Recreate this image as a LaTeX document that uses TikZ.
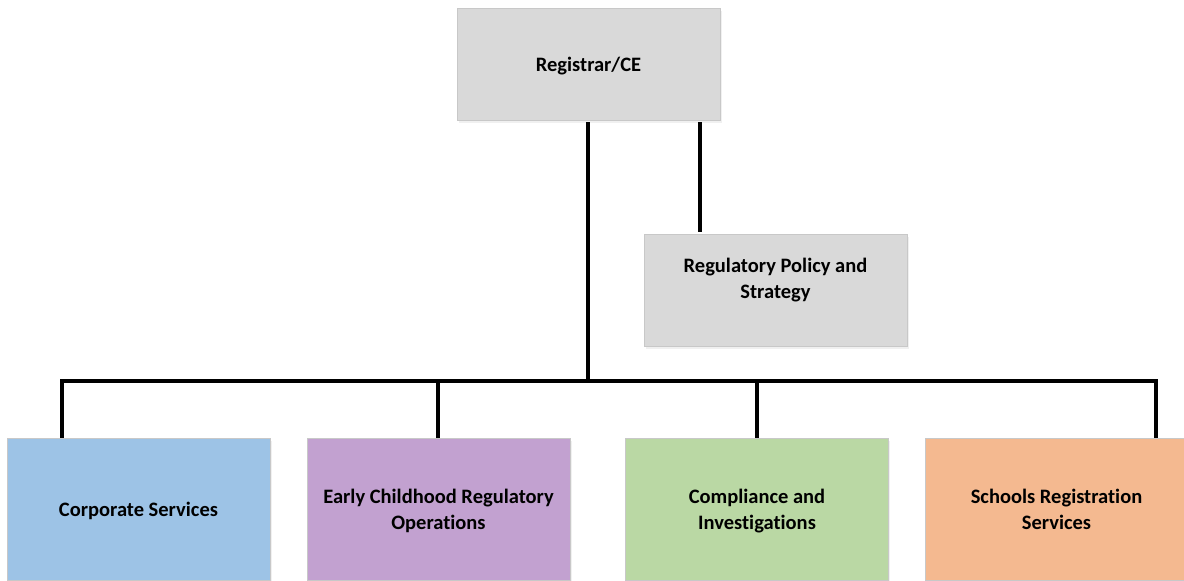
\documentclass[tikz,border=0pt]{standalone}
\usepackage{fontspec}
\setmainfont{Carlito}[RawFeature={-liga}]
\usetikzlibrary{shadows}
\definecolor{boxgray}{RGB}{217,217,217}
\definecolor{boxblue}{RGB}{157,195,230}
\definecolor{boxpurple}{RGB}{194,161,208}
\definecolor{boxgreen}{RGB}{186,216,164}
\definecolor{boxorange}{RGB}{244,185,144}
\definecolor{boxedge}{RGB}{200,200,200}
\newcommand{\linestrut}{\rule[-5pt]{0pt}{24pt}}
\tikzset{
  boxfont/.style={align=center, font=\bfseries\fontsize{20.5}{26}\selectfont, inner sep=0pt},
  orgbox/.style={draw=boxedge, line width=0.8pt, minimum width=263pt, minimum height=112pt,
    boxfont, drop shadow={shadow xshift=1.5pt, shadow yshift=-2.5pt, opacity=0.12}},
  oneline/.style={execute at end node=\linestrut},
  boxlabel/.style={boxfont, execute at end node=\linestrut},
  bottombox/.style={orgbox, minimum height=142pt},
  conn/.style={line width=4pt, black, line join=miter}
}
\begin{document}
\begin{tikzpicture}[x=1pt,y=-1pt]
\useasboundingbox (0,0) rectangle (1184,581);
\node[orgbox, oneline, fill=boxgray] (top) at (588.5,64) {Registrar/CE};
\node[orgbox, fill=boxgray, label={[boxlabel, yshift=-4pt]center:{Regulatory Policy and\\Strategy\\\mbox{}}}] (policy) at (775.5,290) {};
\node[bottombox, oneline, fill=boxblue] (b1) at (138.5,509) {Corporate Services};
\node[bottombox, fill=boxpurple, label={[boxlabel, yshift=-3pt]center:{Early Childhood Regulatory\\Operations}}] (b2) at (438.5,509) {};
\node[bottombox, fill=boxgreen, label={[boxlabel, yshift=-3pt]center:{Compliance and\\Investigations}}] (b3) at (757,509) {};
\node[bottombox, fill=boxorange, label={[boxlabel, yshift=-3pt]center:{Schools Registration\\Services}}] (b4) at (1056.5,509) {};
\coordinate (bus) at (588,381);
\coordinate (pc) at (700,0);
\coordinate (d1) at (62,381);
\coordinate (d2) at (438,381);
\coordinate (d3) at (757,381);
\coordinate (d4) at (1156,381);
\draw[conn] ([yshift=-2pt]top.south -| bus) -- ([yshift=-2pt]bus);
\draw[conn] ([yshift=-2pt]top.south -| pc) -- ([yshift=2pt]policy.north -| pc);
\draw[conn] (b1.north -| d1) -- (d1) -- (d4) -- (b4.north -| d4);
\draw[conn] (d2) -- (b2.north -| d2);
\draw[conn] (d3) -- (b3.north -| d3);
\end{tikzpicture}
\end{document}
